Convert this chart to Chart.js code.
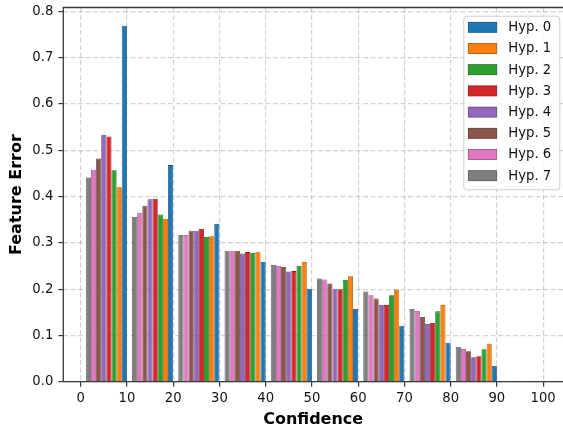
<!DOCTYPE html>
<html><head><meta charset="utf-8">
<script src="https://cdn.jsdelivr.net/npm/chart.js@4.4.1/dist/chart.umd.min.js"></script>
<style>html,body{margin:0;padding:0;background:#fff}#wrap{width:563px;height:427px;position:relative}</style>
</head><body><div id="wrap"><canvas id="c" width="563" height="427"></canvas></div>
<script>
// ---- data ----
const binStarts = [0, 10, 20, 30, 40, 50, 60, 70, 80];
const xTicks = [0, 10, 20, 30, 40, 50, 60, 70, 80, 90, 100];
const yTicks = [0.0, 0.1, 0.2, 0.3, 0.4, 0.5, 0.6, 0.7, 0.8];
const hypLabels = ['Hyp. 0', 'Hyp. 1', 'Hyp. 2', 'Hyp. 3', 'Hyp. 4', 'Hyp. 5', 'Hyp. 6', 'Hyp. 7'];
const hyp0 = [0.769, 0.468, 0.341, 0.259, 0.201, 0.157, 0.121, 0.084, 0.034];
const hyp1 = [0.420, 0.352, 0.314, 0.281, 0.259, 0.228, 0.199, 0.166, 0.082];
const hyp2 = [0.457, 0.361, 0.313, 0.278, 0.250, 0.220, 0.187, 0.152, 0.070];
const hyp3 = [0.530, 0.395, 0.330, 0.280, 0.239, 0.200, 0.166, 0.127, 0.055];
const hyp4 = [0.533, 0.394, 0.326, 0.277, 0.238, 0.201, 0.166, 0.125, 0.053];
const hyp5 = [0.482, 0.380, 0.326, 0.283, 0.248, 0.212, 0.180, 0.140, 0.066];
const hyp6 = [0.458, 0.365, 0.317, 0.283, 0.250, 0.221, 0.187, 0.153, 0.071];
const hyp7 = [0.441, 0.356, 0.317, 0.283, 0.252, 0.223, 0.195, 0.157, 0.075];
const hypSeries = [hyp0, hyp1, hyp2, hyp3, hyp4, hyp5, hyp6, hyp7];

// ---- styles ----
const fills = ['#1f77b4', '#ff7f0e', '#2ca02c', '#d62728', '#9467bd', '#8c564b', '#e377c2', '#7f7f7f'];
function darken(hex, f) {
  const n = parseInt(hex.slice(1), 16);
  const r = Math.round(((n >> 16) & 255) * f), g = Math.round(((n >> 8) & 255) * f), b = Math.round((n & 255) * f);
  return `rgb(${r},${g},${b})`;
}
const edges = fills.map(c => darken(c, 0.65));
const FONT = "'DejaVu Sans', sans-serif";
const GROUP_OFFSET = 50 / 9;      // group centre inside each bin
const drawOrder = [7, 6, 5, 4, 3, 2, 1, 0]; // left-to-right inside a group
const X_MIN = -3.76, X_MAX = 104.3, Y_MAX = 0.8085;
const SPINE = '#3a3a3a';

const datasets = drawOrder.map(i => ({
  label: hypLabels[i],
  hypIndex: i,
  data: binStarts.map((b, j) => ({ x: b + GROUP_OFFSET, y: hypSeries[i][j] })),
  backgroundColor: fills[i],
  borderColor: edges[i],
  borderWidth: 0.8,
  borderSkipped: 'start',
  categoryPercentage: 8 / 9,
  barPercentage: 1.0,
}));

const framePlugin = {
  id: 'frame',
  afterDatasetsDraw(chart) {
    const { ctx, chartArea: a } = chart;
    ctx.save();
    ctx.strokeStyle = SPINE;
    ctx.lineWidth = 1.3;
    ctx.beginPath();
    ctx.moveTo(a.left, a.bottom); ctx.lineTo(a.left, a.top);
    ctx.lineTo(a.right, a.top);
    ctx.moveTo(a.left, a.bottom); ctx.lineTo(a.right, a.bottom);
    ctx.stroke();
    ctx.restore();
  }
};

const legendPlugin = {
  id: 'boxLegend',
  afterDraw(chart) {
    const { ctx, chartArea: a } = chart;
    const w = 96, h = 173.6;
    const right = a.right - 3.7, top = a.top + 8.2, left = right - w;
    ctx.save();
    ctx.fillStyle = 'rgba(255,255,255,0.85)';
    ctx.strokeStyle = '#cccccc';
    ctx.lineWidth = 1;
    ctx.beginPath();
    ctx.roundRect(left + 0.5, top + 0.5, w, h, 3);
    ctx.fill(); ctx.stroke();
    const dsByHyp = [];
    chart.data.datasets.forEach(d => { dsByHyp[d.hypIndex] = d; });
    ctx.font = `13.2px ${FONT}`;
    ctx.textBaseline = 'middle';
    ctx.textAlign = 'left';
    for (let k = 0; k < dsByHyp.length; k++) {
      const d = dsByHyp[k];
      const cy = top + 11.6 + k * 21.2;
      ctx.fillStyle = d.backgroundColor;
      ctx.fillRect(left + 5, cy - 5, 28.4, 10);
      ctx.strokeStyle = d.borderColor;
      ctx.lineWidth = 0.8;
      ctx.strokeRect(left + 5, cy - 5, 28.4, 10);
      ctx.fillStyle = '#111';
      ctx.fillText(d.label, left + 45, cy + 0.5);
    }
    ctx.restore();
  }
};

new Chart(document.getElementById('c'), {
  type: 'bar',
  data: { datasets },
  options: {
    responsive: false,
    animation: false,
    layout: { padding: { top: 7.5, right: 0, left: 0, bottom: 0 } },
    plugins: { legend: { display: false }, tooltip: { enabled: false } },
    scales: {
      x: {
        type: 'linear',
        min: X_MIN, max: X_MAX,
        offset: false,
        grid: { offset: false, color: 'rgba(150,150,150,0.42)', lineWidth: 1.2, drawTicks: true, tickLength: 5, tickColor: SPINE, tickWidth: 1.2 },
        border: { display: false, dash: [5, 2.5] },
        ticks: { font: { family: FONT, size: 13.2 }, color: '#111', padding: 4, maxRotation: 0, autoSkip: false, callback: v => String(v) },
        title: { display: true, text: 'Confidence', color: '#000', font: { family: FONT, size: 16, weight: 'bold', lineHeight: 0.875 }, padding: { top: 0, bottom: 0 } },
        afterBuildTicks: s => { s.ticks = xTicks.map(v => ({ value: v })); },
        afterFit: s => { s.height = 45.3; s.paddingLeft = 0; s.paddingRight = 0; }
      },
      y: {
        type: 'linear',
        min: 0, max: Y_MAX,
        grid: { color: 'rgba(150,150,150,0.42)', lineWidth: 1.2, drawTicks: true, tickLength: 5, tickColor: SPINE, tickWidth: 1.2 },
        border: { display: false, dash: [5, 2.5] },
        ticks: { font: { family: FONT, size: 13.2 }, color: '#111', padding: 5, callback: v => Number(v).toFixed(1) },
        title: { display: true, text: 'Feature Error', color: '#000', font: { family: FONT, size: 16, weight: 'bold', lineHeight: 1 }, padding: { top: 8.5, bottom: 0 } },
        afterBuildTicks: s => { s.ticks = yTicks.map(v => ({ value: v })); },
        afterFit: s => { s.width = 63.3; s.paddingTop = 0; s.paddingBottom = 0; }
      }
    }
  },
  plugins: [framePlugin, legendPlugin]
});
</script>
</body></html>
